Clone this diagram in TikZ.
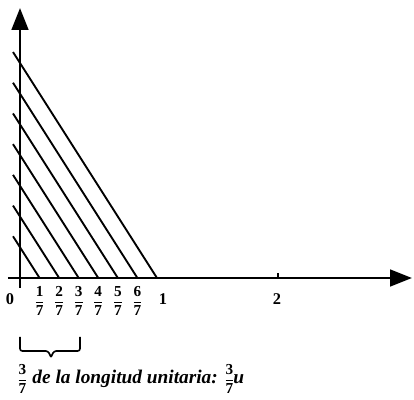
\documentclass[tikz,border=0pt]{standalone}
\usepackage{amsmath}
\usepackage{fontspec}
\setmainfont{Liberation Serif}
\usetikzlibrary{arrows.meta,positioning,decorations.pathreplacing}

\newcommand{\capfrac}[2]{{\fontsize{13}{13}\selectfont$\dfrac{\textup{\textbf{#1}}}{\textup{\textbf{#2}}}$}}

\begin{document}
\begin{tikzpicture}[x=0.03cm,y=0.03cm,>={Triangle[length=0.66cm,width=0.5cm]},
    axisline/.style={line width=2.4pt},
    hatchline/.style={line width=1.6pt},
    ticklabel/.style={font=\bfseries\fontsize{14}{14}\selectfont,inner sep=0pt},
    fraclabel/.style={font=\bfseries\fontsize{13}{13}\selectfont,inner sep=0pt}]
      \useasboundingbox (-20,-122) rectangle (394,278);
      % axes
      \coordinate (O) at (0,0);
      \coordinate (xstart) at (-12,0);
      \coordinate (xend) at (392,0);
      \coordinate (ystart) at (0,-10);
      \coordinate (yend) at (0,270);
      \draw[axisline,->] (xstart) -- (xend);
      \draw[axisline,->] (ystart) -- (yend);
      \draw[line width=1.5pt] (258,0) -- (258,5);
      % parallel lines through k/7
      \foreach \k in {1,...,7}
        \draw[hatchline] (19.57*\k,0) -- (-7,30.71*\k+11);
      % labels
      \node[ticklabel] (zero) at (-10,-21) {0};
      \node[ticklabel] (one) at (143,-21) {1};
      \node[ticklabel] (two) at (257,-21) {2};
      \foreach \k in {1,...,6}
        \node[fraclabel] (f\k) at (19.57*\k,-23) {$\dfrac{\textbf{\k}}{\textbf{7}}$};
      % brace and caption
      \draw[line width=1.4pt,rounded corners=2pt] (0,-59) -- (0,-73) -- (28,-73) -- (31,-79);
      \draw[line width=1.4pt,rounded corners=2pt] (60,-59) -- (60,-73) -- (34,-73) -- (31,-79);
      \node[anchor=west,inner sep=0pt,font=\bfseries\itshape\fontsize{16.5}{16.5}\selectfont] (caption) at (-3,-101)
        {\capfrac{3}{7} de la longitud unitaria: \capfrac{3}{7}\kern-1pt u};
    \end{tikzpicture}
\end{document}
